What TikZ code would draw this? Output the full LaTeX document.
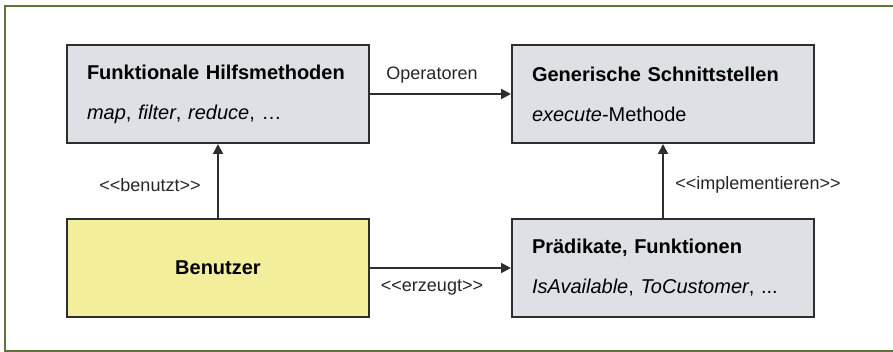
\documentclass[tikz,border=0pt]{standalone}
\usepackage{fontspec}
\setmainfont{Liberation Sans}
\usetikzlibrary{arrows.meta}
\definecolor{frameol}{HTML}{5B7638}
\definecolor{boxgray}{HTML}{DDE0E5}
\definecolor{boxyel}{HTML}{F3EE9B}
\definecolor{linedark}{HTML}{2E2E2E}
\newcommand\stereo[1]{<{}<#1>{}>}
\tikzset{
  umlbox/.style={draw=linedark, line width=2pt, fill=boxgray, minimum width=302pt, minimum height=98pt,
    text width=262pt, inner xsep=20pt, align=left, font=\fontsize{20}{40}\selectfont, anchor=north west},
  userbox/.style={umlbox, fill=boxyel, align=center},
  conn/.style={draw=linedark, line width=2pt, -{Triangle[length=10pt,width=10pt]}},
  lbl/.style={font=\fontsize{18}{20}\selectfont, inner sep=0pt, text=black!85},
  frameline/.style={draw=frameol, line width=2pt}
}
\begin{document}
\begin{tikzpicture}[x=1pt,y=-1pt]
\useasboundingbox (0,0) rectangle (893,352);
\draw[frameline] (893,6.5) -- (5,6.5) -- (5,350.5) -- (893,350.5);

\node[umlbox] (fh) at (66,44) {\textbf{Funktionale Hilfsmethoden}\\\textit{map}, \textit{filter}, \textit{reduce}, …};
\node[umlbox] (gs) at (511,44) {\textbf{Generische Schnittstellen}\\\textit{execute}-Methode};
\node[userbox] (bn) at (66,218) {\textbf{Benutzer}};
\node[umlbox] (pf) at (511,218) {\textbf{Prädikate, Funktionen}\\\textit{IsAvailable}, \textit{ToCustomer}, ...};

\draw[conn] (fh.east) -- (gs.west);
\draw[conn] (bn.north) -- (fh.south);
\draw[conn] (bn.east) -- (pf.west);
\draw[conn] (pf.north) -- (gs.south);

\node[lbl] (lop) at (432,75) {Operatoren};
\node[lbl] (lbe) at (150,185) {\stereo{benutzt}};
\node[lbl] (ler) at (432,288) {\stereo{erzeugt}};
\node[lbl] (lim) at (758,185) {\stereo{implementieren}};
\end{tikzpicture}
\end{document}
